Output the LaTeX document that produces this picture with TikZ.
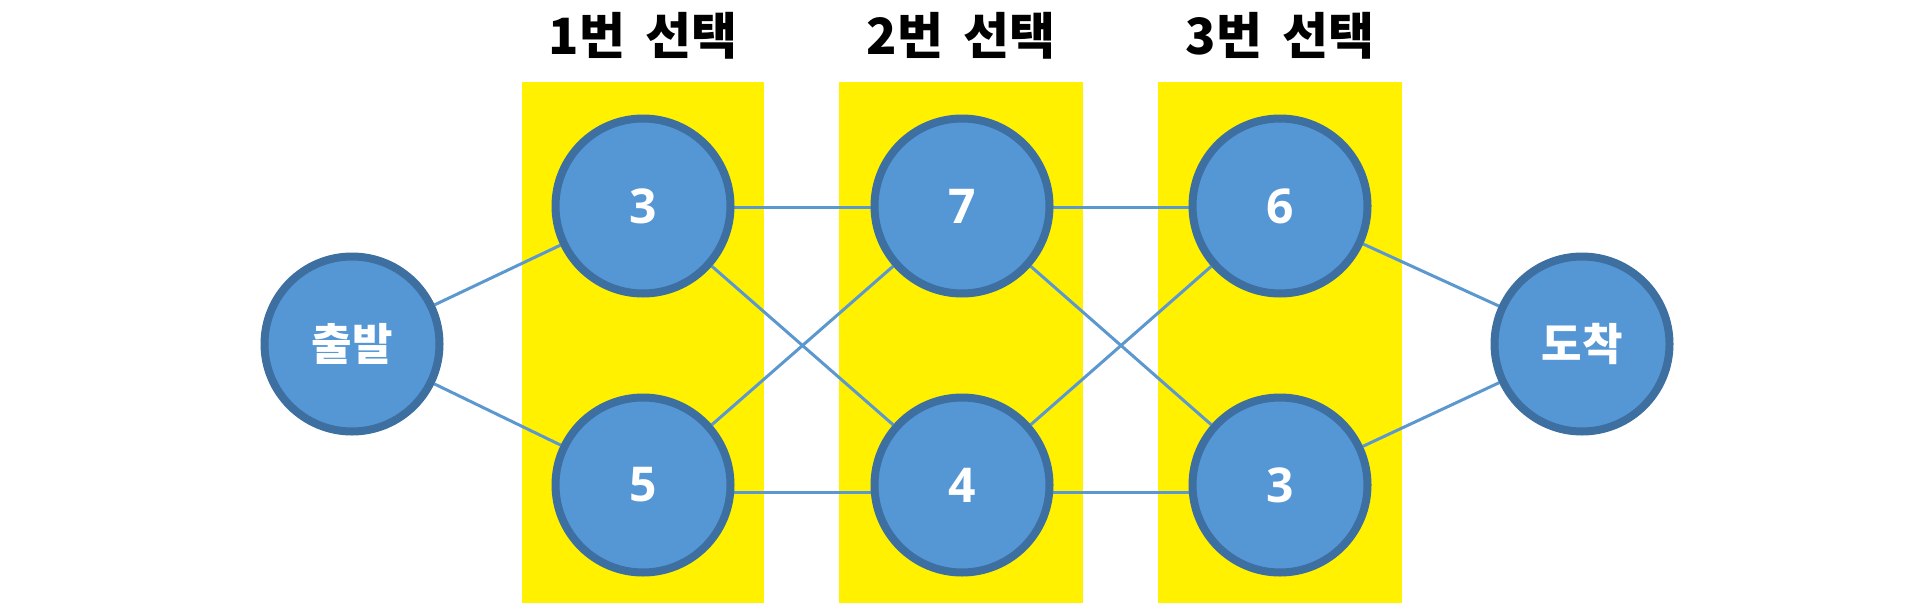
\documentclass[tikz,border=0pt]{standalone}
\usepackage{fontspec}
\setmainfont{Noto Sans CJK KR}
\newfontfamily\numfont{Open Sans}
\usetikzlibrary{backgrounds}

\definecolor{boxyellow}{HTML}{FFF100}
\definecolor{nodefill}{HTML}{5596D5}
\definecolor{nodeborder}{HTML}{3D6FA0}
\definecolor{linkblue}{HTML}{5B98CF}

\begin{document}
\begin{tikzpicture}[x=1pt,y=-1pt,
    stage/.style={circle, draw=nodeborder, line width=8pt, fill=nodefill,
      minimum size=175pt, inner sep=0pt, text=white,
      font=\fontsize{44}{50}\selectfont\bfseries},
    number/.style={stage, font=\numfont\fontsize{48}{50}\selectfont\bfseries},
    title/.style={text=black, font=\fontsize{50}{56}\selectfont\bfseries},
    link/.style={draw=linkblue, line width=3pt}]
    \useasboundingbox (0,0) rectangle (1919,613);

    % Titles of the three choices
    \node[title] (t1) at (643,36) {1번\, 선택};
    \node[title] (t2) at (961,36) {2번\, 선택};
    \node[title] (t3) at (1280,36) {3번\, 선택};

    % Start and goal
    \node[stage] (start) at (352,344) {출발};
    \node[stage] (goal) at (1582,344) {도착};

    % Choice nodes
    \node[number] (c1a) at (643,206) {3};
    \node[number] (c1b) at (643,485) {5};
    \node[number] (c2a) at (962,206) {7};
    \node[number] (c2b) at (962,485) {4};
    \node[number] (c3a) at (1280,206) {6};
    \node[number] (c3b) at (1280,485) {3};

    \begin{scope}[on background layer]
        % Yellow columns
        \fill[boxyellow] (522,82) rectangle (764,603);
        \fill[boxyellow] (839,82) rectangle (1083,603);
        \fill[boxyellow] (1158,82) rectangle (1402,603);

        % Links
        \draw[link] (start) -- (c1a);
        \draw[link] (start) -- (c1b);
        \draw[link] (c1a.-1) -- (c2a.-179);
        \draw[link] (c1a) -- (c2b);
        \draw[link] (c1b) -- (c2a);
        \draw[link] (c1b.-5) -- (c2b.-175);
        \draw[link] (c2a.-1) -- (c3a.-179);
        \draw[link] (c2a) -- (c3b);
        \draw[link] (c2b) -- (c3a);
        \draw[link] (c2b.-5) -- (c3b.-175);
        \draw[link] (c3a) -- (goal);
        \draw[link] (c3b) -- (goal);
    \end{scope}
\end{tikzpicture}
\end{document}
